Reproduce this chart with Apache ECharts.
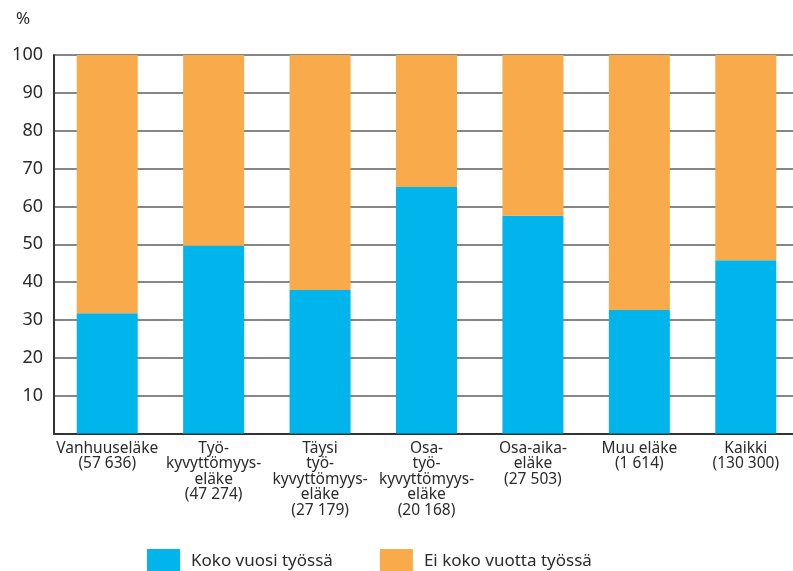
<!DOCTYPE html>
<html>
<head>
<meta charset="utf-8">
<script src="https://cdn.jsdelivr.net/npm/echarts@6/dist/echarts.min.js"></script>
<style>
  html, body { margin: 0; padding: 0; background: #fff; }
  #chart { width: 793px; height: 571px; }
</style>
</head>
<body>
<div id="chart"></div>
<script>
// eläkelajit, suluissa henkilömäärä
const categories = [
  "Vanhuuseläke\n(57 636)",
  "Työ-\nkyvyttömyys-\neläke\n(47 274)",
  "Täysi\ntyö-\nkyvyttömyys-\neläke\n(27 179)",
  "Osa-\ntyö-\nkyvyttömyys-\neläke\n(20 168)",
  "Osa-aika-\neläke\n(27 503)",
  "Muu eläke\n(1 614)",
  "Kaikki\n(130 300)",
];
const kokoVuosi = [31.8, 49.6, 37.9, 65.1, 57.5, 32.6, 45.8];
const eiKokoVuotta = [68.2, 50.4, 62.1, 34.9, 42.5, 67.4, 54.2];
const yTicks = [0, 10, 20, 30, 40, 50, 60, 70, 80, 90, 100];

const fontFamily = "Noto Sans";
const textColor = "#2b2b2b";

const chart = echarts.init(document.getElementById("chart"));

chart.setOption({
  animation: false,
  textStyle: { fontFamily: fontFamily, color: textColor },
  title: {
    text: "%",
    left: 11,
    top: 6,
    textStyle: { fontSize: 17, fontWeight: "normal", color: textColor, fontFamily: fontFamily },
  },
  legend: {
    left: 147,
    top: 549,
    padding: 0,
    itemWidth: 33,
    itemHeight: 24,
    itemGap: 47,
    icon: "rect",
    textStyle: { fontSize: 17, color: textColor, padding: [0, 0, 0, 6] },
    data: ["Koko vuosi työssä", "Ei koko vuotta työssä"],
  },
  grid: {
    left: 54,
    top: 55,
    right: -6,
    bottom: 137.5,
    outerBoundsMode: "none",
  },
  xAxis: {
    type: "category",
    data: categories,
    axisLine: { lineStyle: { color: "#333", width: 2 } },
    axisTick: { show: false },
    axisLabel: {
      interval: 0,
      fontSize: 15.5,
      lineHeight: 15.5,
      color: textColor,
      margin: 7,
      align: "center",
    },
  },
  yAxis: {
    type: "value",
    min: yTicks[0],
    max: yTicks[yTicks.length - 1],
    interval: 10,
    axisLine: { show: true, lineStyle: { color: "#333", width: 2 } },
    axisTick: { show: false },
    splitLine: { lineStyle: { color: "#5e5e5e", width: 1.5 } },
    axisLabel: {
      fontSize: 18,
      color: textColor,
      margin: 11,
      formatter: (v) => (v === 0 ? "" : String(v)),
    },
  },
  series: [
    {
      name: "Koko vuosi työssä",
      type: "bar",
      stack: "all",
      barWidth: 61,
      itemStyle: { color: "#00b5ec" },
      data: kokoVuosi,
    },
    {
      name: "Ei koko vuotta työssä",
      type: "bar",
      stack: "all",
      barWidth: 61,
      itemStyle: { color: "#f9aa4b" },
      data: eiKokoVuotta,
    },
  ],
});
</script>
</body>
</html>
